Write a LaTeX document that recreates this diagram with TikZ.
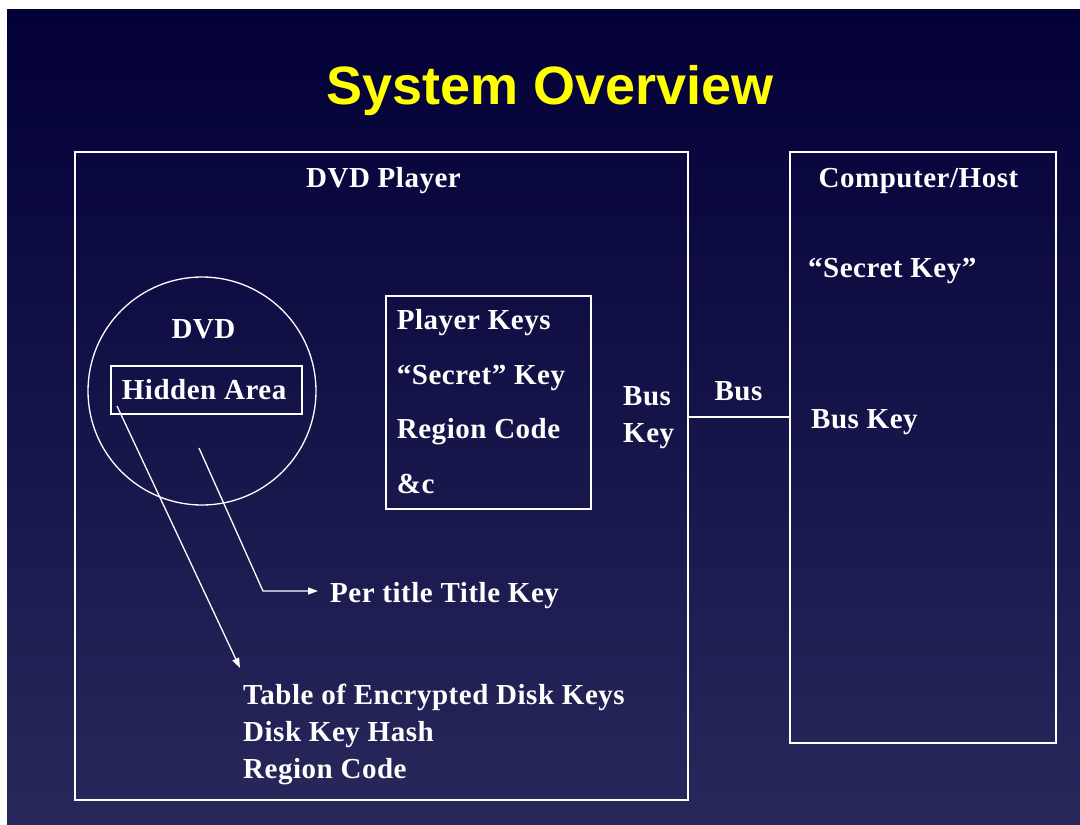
\documentclass[tikz,border=0pt]{standalone}
\usepackage{fontspec}
\usetikzlibrary{arrows.meta}
\newfontfamily\bodyfont{Liberation Serif}[LetterSpace=1.8]
\newfontfamily\headfont{Liberation Sans}
\definecolor{bgtop}{HTML}{020037}
\definecolor{bgbot}{HTML}{28285B}
\definecolor{headyellow}{HTML}{FFFF00}
\tikzset{
  frame/.style={draw=white, line width=2pt, inner sep=0pt, anchor=north west},
  label/.style={text=white, inner sep=0pt, font=\bodyfont\bfseries\fontsize{29}{35}\selectfont},
  lbl/.style={label, anchor=base west},
  clbl/.style={label, anchor=base},
  wire/.style={draw=white, line width=1.3pt},
  pointer/.style={wire, -{Triangle[length=10pt,width=7pt]}},
}
\begin{document}
\begin{tikzpicture}[x=1pt,y=-1pt]
\useasboundingbox (0,0) rectangle (1080,825);
\fill[white] (0,0) rectangle (1080,825);
\shade[top color=bgtop, bottom color=bgbot] (7,9) rectangle (1080,825);

% heading
\node (heading) [anchor=base, inner sep=0pt, text=headyellow,
  font=\headfont\bfseries\fontsize{54}{60}\selectfont] at (550,104) {System Overview};

% outer boxes
\node (player) [frame, minimum width=613pt, minimum height=648pt] at (74,151) {};
\node (host) [frame, minimum width=266pt, minimum height=591pt] at (789,151) {};
\node (keys) [frame, minimum width=205pt, minimum height=213pt] at (385,295) {};

\node (playertitle) [clbl] at (383.5,187) {DVD Player};
\node (hosttitle) [clbl] at (918.5,187) {Computer/Host};

% disc and its hidden area
\node (disc) [circle, draw=white, line width=1.3pt, minimum size=228pt, inner sep=0pt] at (202,391) {};
\node (disctitle) [clbl] at (203.5,338) {DVD};
\node (hidden) [frame, line width=1.5pt, minimum width=191pt, minimum height=48pt] at (110,365) {};
\node (hiddentext) [lbl] at (121.7,399) {Hidden Area};

% player key list
\node (k1) [lbl] at (396.7,329) {Player Keys};
\node (k2) [lbl] at (396.7,384) {“Secret” Key};
\node (k3) [lbl] at (396.7,438.5) {Region Code};
\node (k4) [lbl] at (396.7,493) {\&c};

% bus
\node (buskey1) [lbl] at (623,405) {Bus};
\node (buskey2) [lbl] at (623,442) {Key};
\node (bus) [clbl] at (738.5,400) {Bus};
\coordinate (buslevel) at (0,417);
\draw[wire] (player.east |- buslevel) -- (host.west |- buslevel);

% host contents
\node (hostsecret) [lbl] at (808,277) {“Secret Key”};
\node (hostbus) [lbl] at (811,428) {Bus Key};

% title key
\node (titlekey) [lbl] at (330,602) {Per title Title Key};
\coordinate (tkstart) at (199,448);
\coordinate (tkbend) at (263,591);
\coordinate (tktip) at (318,591);
\draw[pointer] (tkstart) -- (tkbend) -- (tktip);

% disk key table
\node (t1) [lbl] at (243,704) {Table of Encrypted Disk Keys};
\node (t2) [lbl] at (243,741) {Disk Key Hash};
\node (t3) [lbl] at (243,778) {Region Code};
\coordinate (dkstart) at (117,406);
\coordinate (dktip) at (240,668);
\draw[pointer] (dkstart) -- (dktip);
\end{tikzpicture}
\end{document}
